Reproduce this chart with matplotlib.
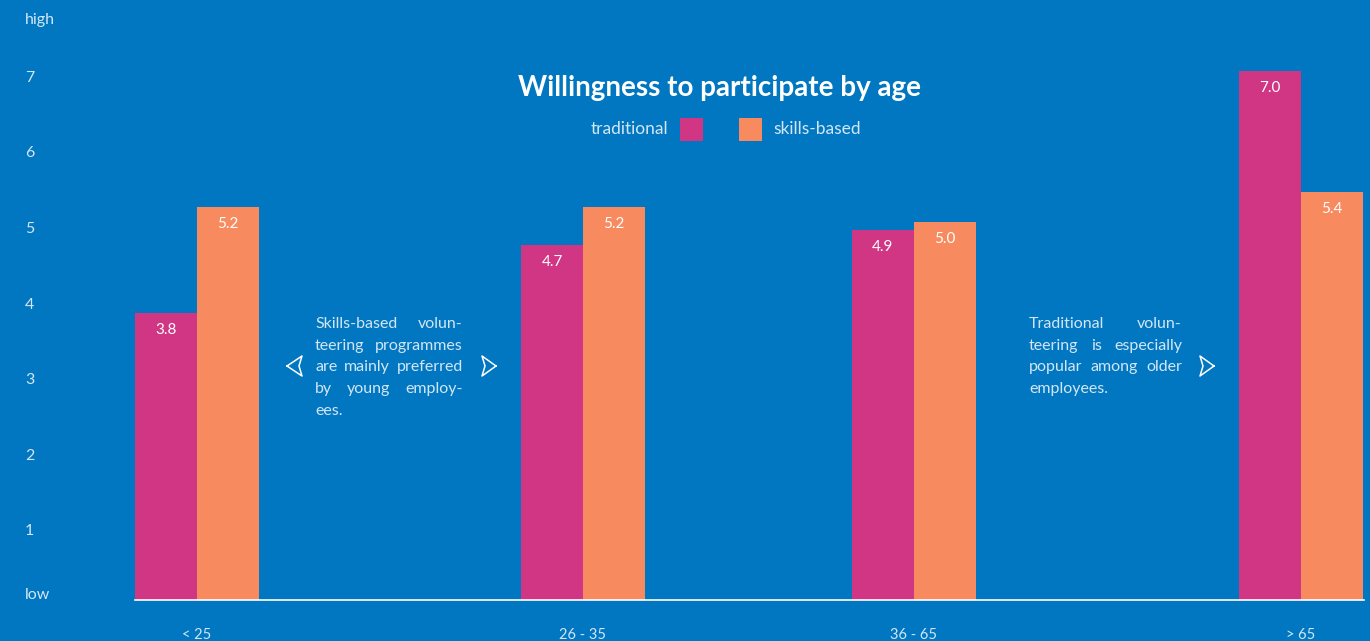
import matplotlib
matplotlib.use("Agg")
import matplotlib.pyplot as plt
from matplotlib.lines import Line2D
from matplotlib.patches import Rectangle

# ---- data ----
categories = ["< 25", "26 - 35", "36 - 65", "> 65"]
traditional = [3.8, 4.7, 4.9, 7.0]
skills_based = [5.2, 5.2, 5.0, 5.4]
value_labels_trad = ["3.8", "4.7", "4.9", "7.0"]
value_labels_skill = ["5.2", "5.2", "5.0", "5.4"]
ytick_values = [0.16, 1, 2, 3, 4, 5, 6, 7, 7.76]
ytick_labels = ["low", "1", "2", "3", "4", "5", "6", "7", "high"]
title = "Willingness to participate by age"
series_names = ["traditional", "skills-based"]
note_left = ["Skills-based volun-", "teering programmes", "are mainly preferred",
             "by young employ-", "ees."]
note_right = ["Traditional volun-", "teering is especially", "popular among older",
              "employees."]

# ---- style ----
BG = "#0077C0"
PINK = "#D03683"
ORANGE = "#F88A5F"
LIGHT = "#D4E6F6"
FONT = "Lato"
W, H = 1370, 641
DPI = 100

plt.rcParams["font.family"] = [FONT, "DejaVu Sans"]

fig = plt.figure(figsize=(W / DPI, H / DPI), dpi=DPI, facecolor=BG)

def fx(px):
    return px / W

def fy(py):
    return 1 - py / H

# axes: left edge at first bar, baseline at y=600px
ax_left, ax_right, ax_bottom, ax_top = 135, 1364, 600, 0
ax = fig.add_axes([fx(ax_left), fy(ax_bottom), fx(ax_right - ax_left), (ax_bottom - ax_top) / H])
ax.set_facecolor(BG)

group_x = [0.0, 1.0, 1.857, 2.86]
bw = 0.1606
ax.set_xlim(-bw, -bw + (ax_right - ax_left) / 386.0)
ax.set_ylim(0, 600 / 75.6)

xt = [g - bw / 2 for g in group_x]
xs = [g + bw / 2 for g in group_x]
ax.bar(xt, traditional, width=bw, color=PINK, linewidth=0, zorder=2)
ax.bar(xs, skills_based, width=bw, color=ORANGE, linewidth=0, zorder=2)

for x, v, s in zip(xt, traditional, value_labels_trad):
    ax.annotate(s, (x, v), xytext=(0, -17), textcoords="offset pixels",
                ha="center", va="center", color="white", fontsize=11)
for x, v, s in zip(xs, skills_based, value_labels_skill):
    ax.annotate(s, (x, v), xytext=(0, -17), textcoords="offset pixels",
                ha="center", va="center", color="white", fontsize=11)

for sp in ["top", "right", "left"]:
    ax.spines[sp].set_visible(False)
ax.spines["bottom"].set_color("white")
ax.spines["bottom"].set_linewidth(1.2)

ax.set_xticks(group_x)
ax.set_xticklabels(categories)
ax.tick_params(axis="x", length=0, pad=20, labelcolor=LIGHT, labelsize=10.5)

ax.set_yticks(ytick_values)
ax.set_yticklabels(ytick_labels)
ax.tick_params(axis="y", length=0, pad=110 * 72 / DPI, labelcolor=LIGHT, labelsize=11.5)
for lab in ax.get_yticklabels():
    lab.set_horizontalalignment("left")
    lab.set_verticalalignment("top")

# title
fig.text(fx(720), fy(88), title, ha="center", va="center", color="white",
         fontsize=20, fontweight="bold")

# legend (manual)
fig.text(fx(668), fy(129), series_names[0], ha="right", va="center", color=LIGHT, fontsize=12.5)
fig.text(fx(773), fy(129), series_names[1], ha="left", va="center", color=LIGHT, fontsize=12.5)
fig.add_artist(Rectangle((fx(680), fy(141)), fx(23), 23 / H, transform=fig.transFigure,
                         facecolor=PINK, edgecolor="none"))
fig.add_artist(Rectangle((fx(739), fy(141)), fx(23), 23 / H, transform=fig.transFigure,
                         facecolor=ORANGE, edgecolor="none"))

# justified notes
renderer = fig.canvas.get_renderer()

def justified(lines, x0, x1, y0, dy, size=11.5):
    for i, line in enumerate(lines):
        words = line.split(" ")
        y = y0 + i * dy
        texts = [fig.text(0, fy(y), w, ha="left", va="center", color=LIGHT, fontsize=size)
                 for w in words]
        widths = [t.get_window_extent(renderer).width for t in texts]
        last = i == len(lines) - 1
        if last or len(words) == 1:
            gap = 4.0
        else:
            gap = (x1 - x0 - sum(widths)) / (len(words) - 1)
        x = x0
        for t, wd in zip(texts, widths):
            t.set_x(fx(x))
            x += wd + gap

justified(note_left, 315, 463, 324, 21.7)
justified(note_right, 1029, 1182, 324, 21.7)

# arrow glyphs
def arrow(tip_x, back_x, cy, half=10, notch=3):
    d = 1 if back_x > tip_x else -1
    xs_ = [tip_x, back_x, back_x - d * notch, back_x, tip_x]
    ys_ = [cy, cy - half, cy, cy + half, cy]
    fig.add_artist(Line2D([fx(v) for v in xs_], [fy(v) for v in ys_],
                          transform=fig.transFigure, color="white", lw=1.1))

arrow(287, 302, 366)
arrow(496, 482, 366)
arrow(1214, 1200, 366)

fig.savefig("out.png", dpi=DPI, facecolor=BG)
